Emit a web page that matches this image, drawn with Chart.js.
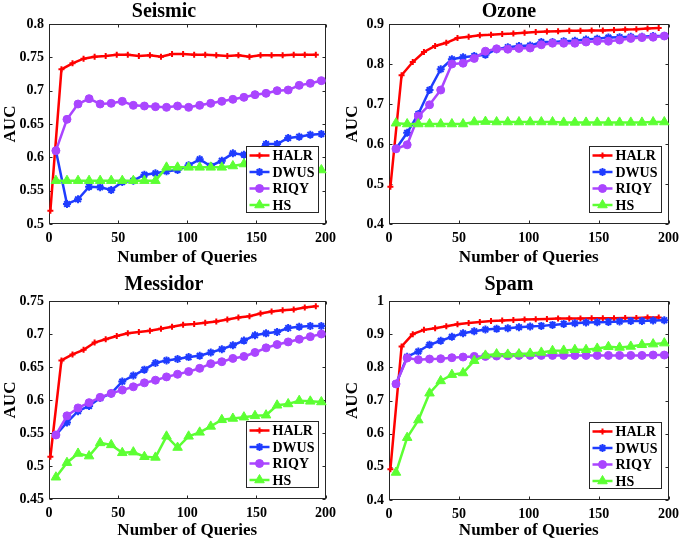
<!DOCTYPE html>
<html>
<head>
<meta charset="utf-8">
<script src="https://cdn.jsdelivr.net/npm/chart.js@4.4.1/dist/chart.umd.min.js"></script>
<style>
  body { margin: 0; background: #fff; }
  #wrap { position: relative; width: 685px; height: 543px; }
  canvas { position: absolute; }
</style>
</head>
<body>
<div id="wrap">
  <canvas id="c1" width="342" height="270" style="left:0;top:0"></canvas>
  <canvas id="c2" width="343" height="270" style="left:342px;top:0"></canvas>
  <canvas id="c3" width="342" height="273" style="left:0;top:270px"></canvas>
  <canvas id="c4" width="343" height="273" style="left:342px;top:270px"></canvas>
</div>
<script>
// query counts where each method was sampled
const xHALR = [1, 9, 17, 25, 33, 41, 49, 57, 65, 73, 81, 89, 97, 105, 113, 121, 129, 137, 145, 153, 161, 169, 177, 185, 193];
const xOther = [5, 13, 21, 29, 37, 45, 53, 61, 69, 77, 85, 93, 101, 109, 117, 125, 133, 141, 149, 157, 165, 173, 181, 189, 197];
const xTicks = [0, 50, 100, 150, 200];

// Seismic
const seismicHALR = [0.52, 0.732, 0.741, 0.748, 0.751, 0.752, 0.754, 0.754, 0.752, 0.753, 0.751, 0.755, 0.755, 0.754, 0.754, 0.753, 0.752, 0.753, 0.751, 0.753, 0.753, 0.753, 0.754, 0.754, 0.754];
const seismicDWUS = [0.61, 0.53, 0.537, 0.556, 0.555, 0.551, 0.563, 0.565, 0.574, 0.576, 0.579, 0.581, 0.588, 0.597, 0.587, 0.595, 0.606, 0.604, 0.609, 0.62, 0.62, 0.629, 0.631, 0.634, 0.635];
const seismicRIQY = [0.61, 0.657, 0.68, 0.688, 0.68, 0.681, 0.684, 0.678, 0.677, 0.676, 0.675, 0.677, 0.675, 0.678, 0.681, 0.684, 0.687, 0.69, 0.694, 0.696, 0.7, 0.701, 0.708, 0.711, 0.715];
const seismicHS = [0.565, 0.565, 0.565, 0.565, 0.565, 0.565, 0.565, 0.565, 0.565, 0.565, 0.585, 0.585, 0.585, 0.585, 0.585, 0.585, 0.587, 0.59, 0.586, 0.586, 0.585, 0.585, 0.584, 0.583, 0.581];

// Ozone
const ozoneHALR = [0.493, 0.772, 0.805, 0.83, 0.845, 0.853, 0.865, 0.868, 0.872, 0.873, 0.875, 0.876, 0.878, 0.88, 0.881, 0.882, 0.883, 0.883, 0.884, 0.884, 0.885, 0.886, 0.887, 0.889, 0.89];
const ozoneDWUS = [0.588, 0.628, 0.675, 0.735, 0.787, 0.812, 0.817, 0.82, 0.823, 0.837, 0.842, 0.845, 0.846, 0.855, 0.855, 0.857, 0.858, 0.861, 0.863, 0.866, 0.867, 0.868, 0.868, 0.87, 0.87];
const ozoneRIQY = [0.588, 0.598, 0.67, 0.698, 0.735, 0.8, 0.802, 0.814, 0.832, 0.838, 0.837, 0.839, 0.84, 0.848, 0.852, 0.852, 0.852, 0.855, 0.857, 0.857, 0.86, 0.864, 0.866, 0.867, 0.87];
const ozoneHS = [0.652, 0.65, 0.65, 0.65, 0.65, 0.65, 0.65, 0.655, 0.656, 0.655, 0.655, 0.655, 0.655, 0.655, 0.655, 0.654, 0.654, 0.654, 0.654, 0.654, 0.654, 0.654, 0.654, 0.655, 0.655];

// Messidor
const messidorHALR = [0.514, 0.66, 0.669, 0.676, 0.687, 0.692, 0.697, 0.701, 0.703, 0.705, 0.708, 0.711, 0.714, 0.715, 0.717, 0.719, 0.722, 0.725, 0.727, 0.731, 0.734, 0.736, 0.737, 0.74, 0.742];
const messidorDWUS = [0.547, 0.566, 0.583, 0.591, 0.603, 0.61, 0.628, 0.637, 0.646, 0.656, 0.66, 0.662, 0.665, 0.667, 0.672, 0.677, 0.683, 0.69, 0.698, 0.701, 0.703, 0.709, 0.711, 0.712, 0.712];
const messidorRIQY = [0.547, 0.576, 0.588, 0.596, 0.604, 0.61, 0.615, 0.62, 0.626, 0.63, 0.635, 0.639, 0.643, 0.648, 0.655, 0.658, 0.663, 0.666, 0.672, 0.679, 0.684, 0.688, 0.692, 0.696, 0.7];
const messidorHS = [0.483, 0.505, 0.519, 0.515, 0.535, 0.532, 0.52, 0.521, 0.514, 0.513, 0.545, 0.528, 0.545, 0.551, 0.56, 0.57, 0.572, 0.574, 0.576, 0.577, 0.592, 0.594, 0.599, 0.598, 0.597];

// Spam
const spamHALR = [0.493, 0.863, 0.9, 0.913, 0.918, 0.924, 0.93, 0.934, 0.937, 0.94, 0.941, 0.943, 0.944, 0.945, 0.946, 0.947, 0.947, 0.947, 0.948, 0.948, 0.948, 0.949, 0.949, 0.95, 0.95];
const spamDWUS = [0.75, 0.832, 0.848, 0.868, 0.88, 0.892, 0.903, 0.909, 0.914, 0.916, 0.918, 0.921, 0.923, 0.925, 0.928, 0.931, 0.933, 0.935, 0.936, 0.937, 0.938, 0.94, 0.94, 0.941, 0.942];
const spamRIQY = [0.75, 0.828, 0.823, 0.825, 0.826, 0.829, 0.831, 0.833, 0.833, 0.834, 0.835, 0.836, 0.836, 0.836, 0.836, 0.836, 0.836, 0.836, 0.836, 0.836, 0.836, 0.836, 0.836, 0.837, 0.837];
const spamHS = [0.483, 0.588, 0.641, 0.722, 0.759, 0.778, 0.783, 0.82, 0.836, 0.84, 0.839, 0.84, 0.842, 0.845, 0.85, 0.851, 0.853, 0.853, 0.857, 0.862, 0.86, 0.863, 0.868, 0.87, 0.873];

const FONT = "'Liberation Serif', 'Times New Roman', serif";
const methods = [
    { name: 'HALR', color: '#ff0000', style: 'cross', radius: 3, bw: 2 },
    { name: 'DWUS', color: '#1f3cff', style: 'star', radius: 4, bw: 2 },
    { name: 'RIQY', color: '#aa45ff', style: 'circle', radius: 4, bw: 1 },
    { name: 'HS', color: '#5cff33', style: 'triangle', radius: 5.5, bw: 1 }
];

function pairs(xs, ys) {
    return xs.map((x, i) => ({ x: x, y: ys[i] }));
}

function buildDatasets(series) {
    return methods.map((m, i) => ({
        label: m.name,
        data: pairs(i === 0 ? xHALR : xOther, series[i]),
        borderColor: m.color,
        backgroundColor: m.color,
        borderWidth: 2.5,
        pointStyle: m.style,
        pointRadius: m.radius,
        pointBorderWidth: m.bw,
        pointHoverRadius: m.radius,
        tension: 0,
        clip: false
    })).reverse();   // HALR drawn last (on top)
}

// MATLAB style box with inward ticks
const boxPlugin = {
    id: 'matlabBox',
    beforeDatasetsDraw(chart) {
        const { ctx, chartArea: a, scales } = chart;
        const L = Math.round(a.left) + 0.5, R = Math.round(a.right) - 0.5;
        const T = Math.round(a.top) + 0.5, B = Math.round(a.bottom) - 0.5;
        ctx.save();
        ctx.strokeStyle = '#262626';
        ctx.lineWidth = 1;
        ctx.strokeRect(L, T, R - L, B - T);
        ctx.beginPath();
        scales.x.ticks.forEach(t => {
            const px = Math.round(scales.x.getPixelForValue(t.value)) + 0.5;
            ctx.moveTo(px, B); ctx.lineTo(px, B - 3);
            ctx.moveTo(px, T); ctx.lineTo(px, T + 3);
        });
        scales.y.ticks.forEach(t => {
            const py = Math.round(scales.y.getPixelForValue(t.value)) + 0.5;
            ctx.moveTo(L, py); ctx.lineTo(L + 3, py);
            ctx.moveTo(R, py); ctx.lineTo(R - 3, py);
        });
        ctx.stroke();
        ctx.restore();
    }
};

// legend box inside the lower right corner
const legendPlugin = {
    id: 'innerLegend',
    afterDraw(chart) {
        const { ctx, chartArea: a } = chart;
        const w = 72, rowH = 16.5, h = 66;
        const x0 = Math.round(a.right - 8 - w) + 0.5;
        const y0 = Math.round(a.bottom - 12 - h) + 0.5;
        ctx.save();
        ctx.fillStyle = '#fff';
        ctx.fillRect(x0, y0, w, h);
        ctx.strokeStyle = '#262626';
        ctx.lineWidth = 1;
        ctx.strokeRect(x0, y0, w, h);
        ctx.font = 'bold 14px ' + FONT;
        ctx.textBaseline = 'middle';
        methods.forEach((m, i) => {
            const cy = y0 + 9 + i * rowH;
            ctx.strokeStyle = m.color;
            ctx.lineWidth = 2.5;
            ctx.beginPath();
            ctx.moveTo(x0 + 3, cy);
            ctx.lineTo(x0 + 23, cy);
            ctx.stroke();
            ctx.fillStyle = m.color;
            ctx.lineWidth = m.bw;
            Chart.helpers.drawPoint(ctx, { pointStyle: m.style, radius: m.radius, borderWidth: m.bw, rotation: 0 }, x0 + 13, cy);
            ctx.fillStyle = '#000';
            ctx.fillText(m.name, x0 + 26, cy + 1);
        });
        ctx.restore();
    }
};

function makeChart(id, title, series, yMin, yMax, yStep, geo) {
    return new Chart(document.getElementById(id), {
        type: 'line',
        data: { datasets: buildDatasets(series) },
        options: {
            responsive: false,
            animation: false,
            events: [],
            layout: { padding: { left: 0, right: geo.right, top: 0, bottom: 0 } },
            plugins: {
                legend: { display: false },
                tooltip: { enabled: false },
                title: {
                    display: true,
                    text: title,
                    color: '#000',
                    font: { family: FONT, size: 20, weight: 'bold', lineHeight: 1.0 },
                    padding: { top: geo.titleTop, bottom: geo.titleBottom }
                }
            },
            scales: {
                x: {
                    type: 'linear',
                    min: 0,
                    max: 200,
                    afterBuildTicks: axis => { axis.ticks = xTicks.map(v => ({ value: v })); },
                    grid: { display: false, drawTicks: false },
                    border: { display: false },
                    ticks: { color: '#000', padding: 6, maxRotation: 0, font: { family: FONT, size: 14, weight: 'bold' } },
                    title: {
                        display: true,
                        text: 'Number of Queries',
                        color: '#000',
                        padding: { top: 0, bottom: 2 },
                        font: { family: FONT, size: 17, weight: 'bold' }
                    },
                    afterFit: s => { s.height = geo.xh; }
                },
                y: {
                    min: yMin,
                    max: yMax,
                    grid: { display: false, drawTicks: false },
                    border: { display: false },
                    ticks: {
                        stepSize: yStep,
                        color: '#000',
                        padding: 5,
                        font: { family: FONT, size: 14, weight: 'bold' },
                        callback: v => String(parseFloat(v.toFixed(2)))
                    },
                    title: {
                        display: true,
                        text: 'AUC',
                        color: '#000',
                        padding: 0,
                        font: { family: FONT, size: 17, weight: 'bold' }
                    },
                    afterFit: s => { s.width = geo.yw; }
                }
            }
        },
        plugins: [boxPlugin, legendPlugin]
    });
}

const topGeo = { right: 14, titleTop: 2, titleBottom: 2, xh: 46, yw: 49 };
const topGeoR = { right: 9, titleTop: 2, titleBottom: 2, xh: 46, yw: 47 };
const botGeo = { right: 14, titleTop: 5, titleBottom: 6, xh: 44, yw: 49 };
const botGeoR = { right: 9, titleTop: 5, titleBottom: 6, xh: 43, yw: 47 };

makeChart('c1', 'Seismic', [seismicHALR, seismicDWUS, seismicRIQY, seismicHS], 0.5, 0.8, 0.05, topGeo);
makeChart('c2', 'Ozone', [ozoneHALR, ozoneDWUS, ozoneRIQY, ozoneHS], 0.4, 0.9, 0.1, topGeoR);
makeChart('c3', 'Messidor', [messidorHALR, messidorDWUS, messidorRIQY, messidorHS], 0.45, 0.75, 0.05, botGeo);
makeChart('c4', 'Spam', [spamHALR, spamDWUS, spamRIQY, spamHS], 0.4, 1.0, 0.1, botGeoR);
</script>
</body>
</html>
